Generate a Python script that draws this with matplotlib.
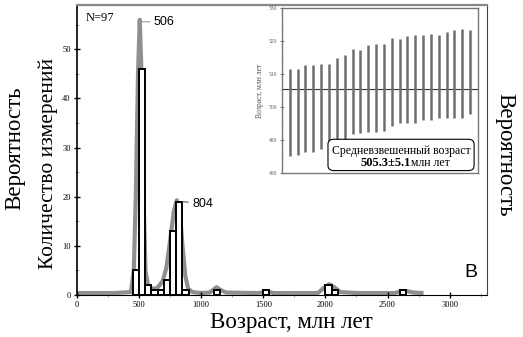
import matplotlib
matplotlib.use('Agg')
import matplotlib.pyplot as plt
from matplotlib.patches import FancyBboxPatch
from matplotlib.ticker import MultipleLocator

# Histogram (bin left edges, counts), bin width 50 Ma
bin_left   = [450, 500, 550, 600, 650, 700, 750, 800, 850, 1100, 1500, 2000, 2050, 2600]
bin_count  = [5,   46,  2,   1,   1,   3,   13,  19,  1,   1,    1,    2,    1,    1]
bin_width  = 50

# Probability curve (age, scaled height)
curve_age  = [0, 300, 435, 458, 474, 492, 506, 520, 536, 552, 572, 610, 650, 690,
              720, 750, 780, 804, 828, 850, 872, 895, 930, 1000, 1070, 1100, 1125,
              1150, 1200, 1450, 1490, 1530, 1580, 1940, 1985, 2030, 2075, 2120,
              2250, 2560, 2610, 2650, 2710, 2790]
curve_prob = [0.4, 0.4, 0.6, 5, 20, 45, 56, 45, 20, 5, 2, 1.2, 1.5, 2.8,
              5.5, 11, 17, 19.3, 17, 10, 4, 1.3, 0.6, 0.4, 0.5, 1.1, 1.6,
              1.1, 0.5, 0.4, 0.5, 0.8, 0.4, 0.4, 1.4, 2.2, 1.5, 0.6,
              0.4, 0.4, 0.8, 0.8, 0.5, 0.4]

# Inset: individual concordant ages (error bar tops/bottoms), weighted mean
spot_top    = [511.6, 511.6, 512.8, 512.7, 513.0, 513.0, 514.9, 515.7, 517.7, 517.2, 518.7, 519.0,
               519.0, 520.8, 520.6, 521.5, 521.8, 521.8, 522.1, 521.8, 522.6, 523.2, 523.8, 523.5]
spot_bottom = [485.0, 485.5, 486.2, 486.2, 487.1, 487.3, 489.1, 490.1, 491.7, 492.0, 492.4, 492.4,
               492.7, 494.2, 495.2, 495.0, 495.2, 496.0, 496.0, 496.5, 496.5, 496.8, 496.8, 497.8]
mean_age    = 505.3

serif = 'Liberation Serif'
sans  = 'Liberation Sans'

fig = plt.figure(figsize=(5.23, 3.37), dpi=100)
ax  = fig.add_axes([0.147, 0.1246, 0.784, 0.8604])

ax.plot(curve_age, curve_prob, color='#8f8f8f', lw=3.0, zorder=1, solid_capstyle='butt')
ax.bar(bin_left, bin_count, width=bin_width, align='edge', facecolor='white',
       edgecolor='black', linewidth=1.4, zorder=2)

ax.set_xlim(0, 3300)
ax.set_ylim(0, 59)
ax.xaxis.set_major_locator(MultipleLocator(500))
ax.xaxis.set_minor_locator(MultipleLocator(250))
ax.yaxis.set_major_locator(MultipleLocator(10))
ax.yaxis.set_minor_locator(MultipleLocator(5))
ax.tick_params(which='major', direction='inout', length=5, width=1, labelsize=6, pad=2)
ax.tick_params(which='minor', direction='inout', length=2.5, width=0.6, color='#999999')
for lab in ax.get_xticklabels() + ax.get_yticklabels():
    lab.set_family(serif)
ax.spines['top'].set_color('#888888')
ax.spines['top'].set_linewidth(1.6)
ax.spines['right'].set_color('#444444')
ax.spines['left'].set_linewidth(1.2)

ax.text(0.022, 0.975, 'N=97', transform=ax.transAxes, family=serif, fontsize=9,
        va='top', ha='left')
ax.annotate('506', xy=(506, 55.6), xytext=(620, 55.6), va='center', ha='left',
            family=sans, fontsize=9,
            arrowprops=dict(arrowstyle='-', color='#999999', lw=0.8, shrinkA=1, shrinkB=0))
ax.annotate('804', xy=(850, 19), xytext=(930, 18.6), va='center', ha='left',
            family=sans, fontsize=9,
            arrowprops=dict(arrowstyle='-', color='#555555', lw=0.8, shrinkA=1, shrinkB=0))
ax.text(0.961, 0.076, 'B', transform=ax.transAxes, family=sans, fontsize=14,
        ha='center', va='center')

fig.text(0.557, 0.042, 'Возраст, млн лет', family=serif, fontsize=16.5, ha='center', va='center')
fig.text(0.092, 0.516, 'Количество измерений', family=serif, fontsize=15.5,
         rotation=90, ha='center', va='center')
fig.text(0.029, 0.561, 'Вероятность', family=serif, fontsize=16.5,
         rotation=90, ha='center', va='center')
fig.text(0.966, 0.54, 'Вероятность', family=serif, fontsize=16.5,
         rotation=-90, ha='center', va='center')

# Inset with weighted mean age
ins = fig.add_axes([0.539, 0.487, 0.375, 0.489])
spot_x = list(range(1, len(spot_top) + 1))
ins.vlines(spot_x, spot_bottom, spot_top, color='#6e6e6e', lw=1.8, zorder=2)
ins.axhline(mean_age, color='#333333', lw=0.8, zorder=1)
ins.set_xlim(0, 25)
ins.set_ylim(480, 530)
ins.set_xticks([])
ins.yaxis.set_major_locator(MultipleLocator(10))
ins.yaxis.set_minor_locator(MultipleLocator(5))
ins.tick_params(which='major', direction='inout', length=3, width=0.6, labelsize=4,
                pad=2, colors='#555555')
ins.tick_params(which='minor', direction='inout', length=1.5, width=0.4, color='#aaaaaa')
for lab in ins.get_yticklabels():
    lab.set_family(serif)
for sp in ins.spines.values():
    sp.set_color('#777777')
    sp.set_linewidth(1.0)
ins.set_ylabel('Возраст, млн лет', family=serif, fontsize=5.5, color='#555555', labelpad=3)

box = FancyBboxPatch((0.235, 0.014), 0.745, 0.19, boxstyle='round,pad=0,rounding_size=0.03',
                     transform=ins.transAxes, facecolor='white', edgecolor='black',
                     linewidth=0.8, zorder=3)
ins.add_patch(box)
ins.text(0.607, 0.135, 'Средневзвешенный возраст', transform=ins.transAxes,
         family=serif, fontsize=8.5, ha='center', va='center', zorder=4)
ins.text(0.66, 0.062, '505.3±5.1', transform=ins.transAxes, family=serif, fontsize=9,
         fontweight='bold', ha='right', va='center', zorder=4)
ins.text(0.66, 0.062, 'млн лет', transform=ins.transAxes, family=serif, fontsize=8.5,
         ha='left', va='center', zorder=4)

fig.savefig('out.png', dpi=100)
